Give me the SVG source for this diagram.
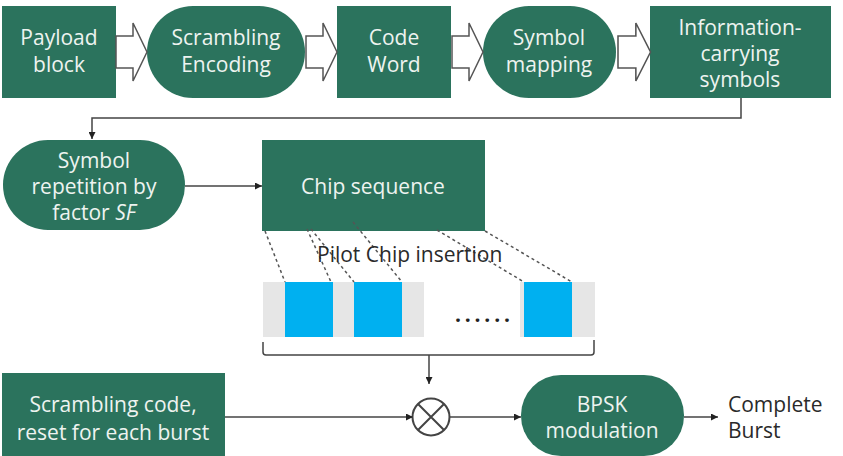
<svg xmlns="http://www.w3.org/2000/svg" width="843" height="456" viewBox="0 0 843 456">
<defs>
<style>
.box{fill:#2b735d;}
.lt{font-family:"Open Sans","Noto Sans",sans-serif;font-size:21px;fill:#eef3f0;text-anchor:middle;}
.dk{font-family:"Open Sans","Noto Sans",sans-serif;font-size:21px;fill:#2a2a2a;}
.ln{stroke:#444;stroke-width:1.5;fill:none;}
.dash{stroke:#555;stroke-width:1.5;stroke-dasharray:3 3;fill:none;}
.hollow{fill:#fff;stroke:#555;stroke-width:1.5;}
.gray{fill:#e6e6e6;}
.blue{fill:#00b0f0;}
</style>
<marker id="ah" viewBox="0 0 10 10" refX="10" refY="5" markerWidth="7" markerHeight="7" markerUnits="userSpaceOnUse" orient="auto">
<path d="M0,0 L10,5 L0,10 Z" fill="#222"/>
</marker>
<path id="harrow" d="M0,-16 L17,-16 L17,-29 L31,0 L17,29 L17,16 L0,16 Z"/>
</defs>

<g id="payload"><rect class="box" x="2" y="6" width="114" height="92"/><text class="lt" x="59" y="45">Payload</text><text class="lt" x="59" y="72">block</text></g>
<g id="scrambling-encoding"><rect class="box" x="147" y="6" width="158" height="92" rx="46"/><text class="lt" x="226" y="45">Scrambling</text><text class="lt" x="226" y="72">Encoding</text></g>
<g id="code-word"><rect class="box" x="337" y="6" width="114" height="92"/><text class="lt" x="394" y="45">Code</text><text class="lt" x="394" y="72">Word</text></g>
<g id="symbol-mapping"><rect class="box" x="483" y="6" width="133" height="92" rx="46"/><text class="lt" x="549" y="45">Symbol</text><text class="lt" x="549" y="72">mapping</text></g>
<g id="info-symbols"><rect class="box" x="650" y="6" width="181" height="92"/><text class="lt" x="740" y="35" font-size="19">Information-</text><text class="lt" x="740" y="61" font-size="19">carrying</text><text class="lt" x="740" y="87" font-size="19">symbols</text></g>
<g id="symbol-repetition"><rect class="box" x="3" y="140" width="182" height="90" rx="45"/><text class="lt" x="94" y="168">Symbol</text><text class="lt" x="94" y="194">repetition by</text><text class="lt" x="94" y="220">factor <tspan font-style="italic">SF</tspan></text></g>
<g id="chip-sequence"><rect class="box" x="262" y="140" width="223" height="91"/><text class="lt" x="373" y="194">Chip sequence</text></g>
<g id="pilot-bar">
<rect class="gray" x="263" y="282" width="161" height="55"/>
<rect class="gray" x="520" y="282" width="75" height="55"/>
<rect class="blue" x="285" y="282" width="48" height="55"/>
<rect class="blue" x="354" y="282" width="48" height="55"/>
<rect class="blue" x="524" y="282" width="48" height="55"/>
<text x="455" y="322" font-family="'Open Sans',sans-serif" font-size="21" font-weight="bold" fill="#222" letter-spacing="3.8">......</text>
</g>
<g id="scrambling-code"><rect class="box" x="2" y="373" width="223" height="83"/><text class="lt" x="113" y="412">Scrambling code,</text><text class="lt" x="113" y="440">reset for each burst</text></g>
<g id="multiplier"><circle cx="431" cy="417" r="18.5" fill="#fff" stroke="#444" stroke-width="2"/><path d="M418,404 L444,430 M444,404 L418,430" stroke="#444" stroke-width="2"/></g>
<g id="bpsk"><rect class="box" x="521" y="375" width="163" height="81" rx="40"/><text class="lt" x="602" y="412">BPSK</text><text class="lt" x="602" y="438">modulation</text></g>
<g id="complete-burst"><text class="dk" x="728" y="412">Complete</text><text class="dk" x="728" y="438">Burst</text></g>

<g id="connectors">
<use href="#harrow" class="hollow" transform="translate(116,52)"/>
<use href="#harrow" class="hollow" transform="translate(306,52)"/>
<use href="#harrow" class="hollow" transform="translate(452,52)"/>
<use href="#harrow" class="hollow" transform="translate(618,52) scale(1.05,1)"/>
<path class="ln" d="M741,98 L741,118 L92,118 L92,139" marker-end="url(#ah)"/>
<path class="ln" d="M185,186 L262,186" marker-end="url(#ah)"/>
<path class="dash" d="M265,231 L285,282 M307,229 L331,282 M311,229 L354,282 M353,222 L402,282 M437,230 L524,282 M485,231 L572,282"/>
<text class="dk" x="317" y="262" fill="#333" font-size="22">Pilot Chip insertion</text>
<path class="ln" d="M263,342 L263,352 Q263,355 266,355 L591,355 Q594,355 594,352 L594,340"/>
<path class="ln" d="M429,355 L429,384" marker-end="url(#ah)"/>
<path class="ln" d="M225,417 L413,417" marker-end="url(#ah)"/>
<path class="ln" d="M450,417 L521,417" marker-end="url(#ah)"/>
<path class="ln" d="M684,417 L718,417" marker-end="url(#ah)"/>
</g>
</svg>
